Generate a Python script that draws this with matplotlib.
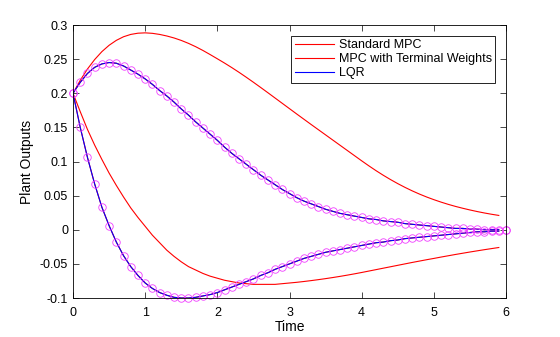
import numpy as np
import matplotlib
matplotlib.use('Agg')
import matplotlib.pyplot as plt

plt.rcParams['font.family'] = ['Liberation Sans', 'DejaVu Sans']

# time vectors
t_std = np.round(np.arange(0, 60) * 0.1, 1)    # 0 .. 5.9
t_mark = np.round(np.arange(0, 61) * 0.1, 1)   # 0 .. 6.0

# Standard MPC, two outputs (0 .. 5.9)
std_upper = [0.2000, 0.2190, 0.2355, 0.2494, 0.2610, 0.2703, 0.2775, 0.2828, 0.2862, 0.2880,
             0.2885, 0.2878, 0.2862, 0.2839, 0.2810, 0.2774, 0.2731, 0.2682, 0.2627, 0.2567,
             0.2505, 0.2442, 0.2376, 0.2307, 0.2235, 0.2161, 0.2085, 0.2008, 0.1930, 0.1852,
             0.1774, 0.1696, 0.1619, 0.1542, 0.1466, 0.1390, 0.1314, 0.1238, 0.1162, 0.1086,
             0.1010, 0.0936, 0.0865, 0.0798, 0.0735, 0.0676, 0.0621, 0.0570, 0.0523, 0.0480,
             0.0441, 0.0405, 0.0372, 0.0342, 0.0315, 0.0290, 0.0267, 0.0246, 0.0227, 0.0210]
std_lower = [0.200, 0.173, 0.147, 0.124, 0.103, 0.083, 0.065, 0.048, 0.032, 0.018,
             0.005, -0.008, -0.019, -0.030, -0.039, -0.047, -0.054, -0.059, -0.064, -0.068,
             -0.071, -0.074, -0.076, -0.078, -0.079, -0.080, -0.080, -0.080, -0.080, -0.079,
             -0.0780, -0.0770, -0.0758, -0.0745, -0.0731, -0.0716, -0.0700, -0.0683, -0.0665, -0.0646,
             -0.0626, -0.0605, -0.0584, -0.0563, -0.0542, -0.0521, -0.0500, -0.0479, -0.0459, -0.0439,
             -0.0420, -0.0400, -0.0381, -0.0362, -0.0344, -0.0326, -0.0309, -0.0292, -0.0276, -0.0260]

# LQR / MPC with terminal weights (they coincide), 0 .. 6.0
lqr_upper = [0.200, 0.216, 0.229, 0.238, 0.243, 0.245, 0.244, 0.240, 0.234, 0.228,
             0.221, 0.213, 0.204, 0.196, 0.187, 0.177, 0.168, 0.158, 0.149, 0.140,
             0.131, 0.121, 0.112, 0.104, 0.096, 0.088, 0.080, 0.073, 0.066, 0.059,
             0.053, 0.047, 0.042, 0.038, 0.034, 0.030, 0.027, 0.024, 0.022, 0.020,
             0.018, 0.016, 0.015, 0.013, 0.012, 0.011, 0.009, 0.008, 0.007, 0.006,
             0.005, 0.004, 0.003, 0.002, 0.002, 0.001, 0.001, 0.000, 0.000, 0.000, 0.000]
lqr_lower = [0.200, 0.150, 0.106, 0.067, 0.033, 0.006, -0.018, -0.038, -0.054, -0.067,
             -0.078, -0.086, -0.092, -0.096, -0.099, -0.100, -0.100, -0.099, -0.097, -0.095,
             -0.092, -0.088, -0.084, -0.080, -0.076, -0.072, -0.067, -0.063, -0.058, -0.054,
             -0.050, -0.046, -0.042, -0.039, -0.036, -0.033, -0.031, -0.029, -0.027, -0.025,
             -0.023, -0.021, -0.019, -0.018, -0.016, -0.015, -0.013, -0.012, -0.011, -0.010,
             -0.009, -0.008, -0.007, -0.006, -0.005, -0.004, -0.003, -0.003, -0.002, -0.002, -0.001]
tw_upper = lqr_upper
tw_lower = lqr_lower

fig = plt.figure(figsize=(5.6, 3.37), dpi=100)
ax = fig.add_axes([0.1304, 0.1157, 0.7732, 0.8101])

lw = 0.8
l1, = ax.plot(t_std, std_upper, color='red', lw=lw, label='Standard MPC')
ax.plot(t_std, std_lower, color='red', lw=lw)
l2, = ax.plot(t_mark[:-1], tw_upper[:-1], color='red', lw=lw, label='MPC with Terminal Weights')
ax.plot(t_mark[:-1], tw_lower[:-1], color='red', lw=lw)
l3, = ax.plot(t_mark[:-1], lqr_upper[:-1], color='blue', lw=lw, label='LQR')
ax.plot(t_mark[:-1], lqr_lower[:-1], color='blue', lw=lw)
for yy in (tw_upper, tw_lower):
    ax.plot(t_mark, yy, 'o', mfc='none', mec='#f040ff', ms=5.4, mew=0.6, clip_on=False)

ax.set_xlim(0, 6)
ax.set_ylim(-0.1, 0.3)
ax.set_xticks(range(0, 7))
yt = [-0.1, -0.05, 0, 0.05, 0.1, 0.15, 0.2, 0.25, 0.3]
ax.set_yticks(yt)
ax.set_yticklabels(['-0.1', '-0.05', '0', '0.05', '0.1', '0.15', '0.2', '0.25', '0.3'])
ax.tick_params(direction='in', top=True, right=True, labelsize=9, length=4, width=0.5)
ax.tick_params(axis='x', pad=6.5)
for s in ax.spines.values():
    s.set_linewidth(0.6)
ax.set_xlabel('Time', fontsize=10, labelpad=1)
ax.set_ylabel('Plant Outputs', fontsize=10, labelpad=4)

leg = ax.legend(handles=[l1, l2, l3], loc='upper right', fontsize=9, fancybox=False,
                framealpha=1, edgecolor='black', handlelength=3.1, handletextpad=0.4,
                labelspacing=0.15, borderaxespad=0.85, borderpad=0.3)
leg.get_frame().set_linewidth(0.6)

fig.savefig('out.png', dpi=100)
